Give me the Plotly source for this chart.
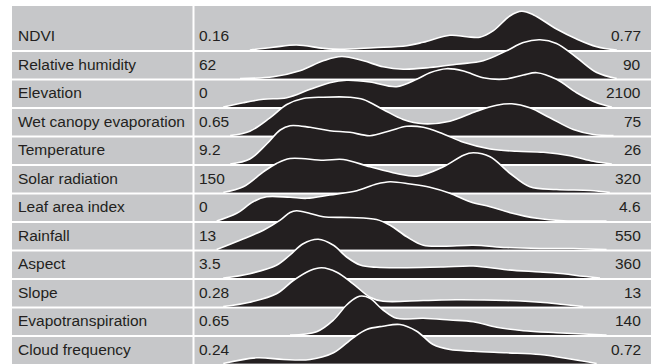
import plotly.graph_objects as go

# Variables, top to bottom, with the observed range of each one
variables = ["NDVI", "Relative humidity", "Elevation", "Wet canopy evaporation",
             "Temperature", "Solar radiation", "Leaf area index", "Rainfall",
             "Aspect", "Slope", "Evapotranspiration", "Cloud frequency"]
range_min = ["0.16", "62", "0", "0.65", "9.2", "150", "0", "13", "3.5", "0.28", "0.65", "0.24"]
range_max = ["0.77", "90", "2100", "75", "26", "320", "4.6", "550", "360", "13", "140", "0.72"]

# Density profiles: position is the fraction of each variable's range (0 = min, 1 = max)
ndvi_pos = [0.085, 0.142, 0.199, 0.264, 0.305, 0.386, 0.468, 0.508, 0.573, 0.614, 0.646,
            0.679, 0.720, 0.748, 0.776, 0.833, 0.882, 0.931, 0.980]
ndvi_den = [0, 2.7, 5, 1.7, 0.7, 2.3, 4.3, 7.7, 14.7, 13.3, 12.7, 19.3, 34.3, 38.7, 35.3, 21, 11, 3.3, 0]

rh_pos = [0.061, 0.142, 0.207, 0.264, 0.309, 0.362, 0.410, 0.459, 0.524, 0.589, 0.654, 0.711,
          0.752, 0.793, 0.833, 0.882, 0.931, 0.980]
rh_den = [0, 1.7, 7.7, 17.7, 22, 17.7, 11.7, 9.3, 11, 14.3, 17.7, 27.7, 36, 38.7, 35, 21, 6, 0]

elev_pos = [0.020, 0.069, 0.118, 0.175, 0.232, 0.280, 0.321, 0.378, 0.443, 0.492, 0.524, 0.565,
            0.606, 0.654, 0.703, 0.752, 0.785, 0.833, 0.882, 0.931, 0.968]
elev_den = [0, 4.3, 7.7, 9.3, 17.7, 24.3, 26.7, 25, 20.3, 27.7, 34.3, 38.3, 36, 29.3, 27.7, 32,
            34.3, 27.7, 14.3, 4.3, 0]

wet_pos = [0.037, 0.085, 0.134, 0.175, 0.215, 0.264, 0.329, 0.362, 0.410, 0.459, 0.508, 0.573,
           0.638, 0.687, 0.724, 0.768, 0.817, 0.874, 0.923, 0.972]
wet_den = [0, 4.3, 17.7, 31, 37, 38.3, 38.3, 36, 26, 16, 11.7, 14.3, 24.3, 30.3, 31.7, 27.7,
           17.7, 6, 1, 0]

temp_pos = [0.037, 0.085, 0.126, 0.159, 0.183, 0.232, 0.280, 0.329, 0.378, 0.427, 0.468, 0.508,
            0.557, 0.606, 0.671, 0.736, 0.801, 0.866, 0.923, 0.968]
temp_den = [0, 5, 20, 34, 38.3, 36.7, 33.3, 31.7, 28.3, 33.3, 37.7, 36.7, 30, 21.7, 15, 12.7,
            11.7, 8.3, 2.7, 0]

solar_pos = [0.020, 0.069, 0.118, 0.150, 0.183, 0.264, 0.313, 0.378, 0.443, 0.492, 0.557, 0.606,
             0.630, 0.671, 0.720, 0.768, 0.833, 0.915, 0.963]
solar_den = [0, 5.7, 20.7, 29, 34, 32.3, 33, 25.7, 19, 16.3, 25.7, 37.3, 39.7, 35.7, 19, 5.7,
             3, 2, 0]

lai_pos = [0.004, 0.053, 0.093, 0.126, 0.183, 0.224, 0.280, 0.346, 0.394, 0.427, 0.476, 0.524,
           0.573, 0.622, 0.671, 0.720, 0.785, 0.850, 0.955]
lai_den = [0, 7.7, 19.3, 24.3, 23.7, 22.7, 26, 30.3, 37, 39.3, 37, 33.7, 27.7, 19.3, 14.3, 8.3,
           2.7, 0.3, 0]

rain_pos = [0.004, 0.061, 0.118, 0.159, 0.183, 0.199, 0.232, 0.264, 0.329, 0.394, 0.427, 0.468,
            0.508, 0.557, 0.630, 0.711, 0.793, 0.874, 0.955]
rain_den = [0, 9.3, 19.3, 29.3, 37, 38.7, 36, 32.7, 32, 30, 24.3, 12.7, 4.3, 3.3, 4.3, 2, 1, 1, 0]

aspect_pos = [0.020, 0.085, 0.150, 0.183, 0.215, 0.252, 0.289, 0.321, 0.354, 0.394, 0.468, 0.557,
              0.630, 0.711, 0.793, 0.850, 0.898, 0.939]
aspect_den = [0, 4.3, 12.7, 23, 34.3, 38.7, 32.7, 21, 13, 10.7, 10.3, 11, 12, 8.3, 6, 4.3, 1.7, 0]

slope_pos = [0.020, 0.085, 0.150, 0.191, 0.232, 0.260, 0.297, 0.337, 0.378, 0.410, 0.508, 0.589,
             0.711, 0.793, 0.850, 0.898]
slope_den = [0, 4.3, 12.7, 26, 36, 38.7, 34.3, 22.7, 9.3, 5.3, 6, 6.7, 6, 4.3, 2, 0]

et_pos = [0.183, 0.248, 0.289, 0.321, 0.346, 0.358, 0.378, 0.410, 0.443, 0.508, 0.573, 0.630,
          0.687, 0.752, 0.833, 0.898, 0.955]
et_den = [0, 3.3, 15, 30, 37.7, 39, 36.7, 25, 16.7, 16.7, 15, 13.3, 7.7, 4.3, 2.3, 1, 0]

cloud_pos = [0.020, 0.102, 0.167, 0.232, 0.289, 0.337, 0.370, 0.410, 0.451, 0.492, 0.532, 0.573,
             0.630, 0.711, 0.793, 0.874, 0.931]
cloud_den = [0, 5.7, 4, 4, 10.7, 25.7, 34, 37.3, 39, 32.3, 19, 14, 12.3, 10.7, 9, 4, 0]

profiles = [(ndvi_pos, ndvi_den), (rh_pos, rh_den), (elev_pos, elev_den), (wet_pos, wet_den),
            (temp_pos, temp_den), (solar_pos, solar_den), (lai_pos, lai_den),
            (rain_pos, rain_den), (aspect_pos, aspect_den), (slope_pos, slope_den),
            (et_pos, et_den), (cloud_pos, cloud_den)]

# ---- styling / geometry ----
W, H = 651, 364
ROW_PX = 28.5            # height of one table row in pixels
DENSITY_PER_ROW = 28.5   # density units that fill one row height
BOTTOM_PX = 363.5        # pixel row of the last ridge's baseline
X0_PX, SPAN_PX = 215, 410  # where the ridge range starts and how wide it is
GRAY = "#c6c7c9"
INK = "#231f20"
FONT = "Liberation Sans, Arial, sans-serif"
FSIZE = 15.5

n = len(variables)
y_lo = -(H - BOTTOM_PX) / ROW_PX
y_hi = BOTTOM_PX / ROW_PX
x_lo = -X0_PX / SPAN_PX
x_hi = (W - X0_PX) / SPAN_PX

fig = go.Figure()

# ridges drawn top to bottom so that lower rows overlap the ones above
for k, (pos, den) in enumerate(profiles):
    base = (n - 1) - k
    fig.add_trace(go.Scatter(
        x=pos,
        y=[base + d / DENSITY_PER_ROW for d in den],
        mode="lines",
        fill="toself",
        fillcolor=INK,
        line=dict(color="white", width=1.6, shape="spline", smoothing=1.0),
        hoverinfo="skip",
        showlegend=False,
    ))

top_paper = (H - 6) / H
shapes = [
    dict(type="rect", xref="paper", yref="paper", x0=12 / W, x1=1, y0=0, y1=top_paper,
         fillcolor=GRAY, line=dict(width=0), layer="below"),
    dict(type="line", xref="paper", yref="paper", x0=193.5 / W, x1=193.5 / W, y0=0, y1=top_paper,
         line=dict(color="white", width=2), layer="below"),
]
for k in range(n - 1):
    base = (n - 1) - k
    yy = base - 1.0 / ROW_PX
    shapes.append(dict(type="line", xref="paper", yref="y", x0=12 / W, x1=1, y0=yy, y1=yy,
                       line=dict(color="white", width=2), layer="below"))

annotations = []
for k, name in enumerate(variables):
    base = (n - 1) - k
    ymid = base + 14.5 / ROW_PX
    common = dict(yref="y", y=ymid, yanchor="middle", showarrow=False,
                  font=dict(family=FONT, size=FSIZE, color=INK), xref="paper")
    annotations.append(dict(text=name, x=16 / W, xanchor="left", **common))
    annotations.append(dict(text=range_min[k], x=197 / W, xanchor="left", **common))
    annotations.append(dict(text=range_max[k], x=643 / W, xanchor="right", **common))

fig.update_layout(
    width=W, height=H,
    margin=dict(l=0, r=0, t=0, b=0),
    paper_bgcolor="white",
    plot_bgcolor="rgba(0,0,0,0)",
    xaxis=dict(range=[x_lo, x_hi], visible=False, fixedrange=True),
    yaxis=dict(range=[y_lo, y_hi], visible=False, fixedrange=True),
    shapes=shapes,
    annotations=annotations,
    showlegend=False,
)

fig.write_html("out.html")
